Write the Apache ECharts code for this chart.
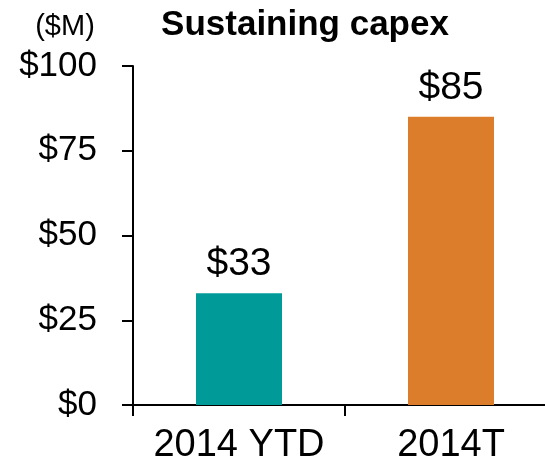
<!DOCTYPE html>
<html><head><meta charset="utf-8">
<script src="https://cdn.jsdelivr.net/npm/echarts@6/dist/echarts.min.js"></script>
<style>html,body{margin:0;padding:0;background:#fff;overflow:hidden;width:545px;height:466px}#c{width:557px;height:466px}</style>
</head><body><div id="c"></div>
<script>
const categories = ['2014 YTD', '2014T'];
const values = [33, 85];
const barColors = ['#009B98', '#DC7D2B'];
const yTicks = [0, 25, 50, 75, 100];
const titleText = 'Sustaining capex';
const unitText = '($M)';

const FONT = '"Liberation Sans", Arial, sans-serif';
const chart = echarts.init(document.getElementById('c'), null, {renderer: 'canvas'});
chart.setOption({
  animation: false,
  backgroundColor: '#fff',
  title: [
    {text: titleText, left: 300, top: 3, textAlign: 'center',
     textStyle: {fontFamily: FONT, fontSize: 35, fontWeight: 'bold', color: '#000'}},
    {text: unitText, left: 60, top: 7, textAlign: 'center',
     textStyle: {fontFamily: FONT, fontSize: 29, fontWeight: 'normal', color: '#000'}}
  ],
  grid: {left: 133, top: 66, right: 0, bottom: 61, containLabel: false},
  xAxis: {
    type: 'category', data: categories,
    axisLine: {lineStyle: {color: '#000', width: 2}},
    axisTick: {show: true, length: 11, lineStyle: {color: '#000', width: 2}},
    axisLabel: {fontFamily: FONT, fontSize: 38, color: '#000', margin: 22, interval: 0, hideOverlap: false}
  },
  yAxis: {
    type: 'value', min: yTicks[0], max: yTicks[yTicks.length - 1], interval: 25,
    axisLine: {show: true, lineStyle: {color: '#000', width: 2}},
    axisTick: {show: true, length: 11, lineStyle: {color: '#000', width: 2}},
    splitLine: {show: false},
    axisLabel: {fontFamily: FONT, fontSize: 35, color: '#000', margin: 36,
      formatter: v => '$' + v}
  },
  series: [{
    type: 'bar', barWidth: 86,
    data: values.map((v, i) => ({value: v, itemStyle: {color: barColors[i]}})),
    label: {show: true, position: 'top', distance: 9, fontFamily: FONT, fontSize: 39, color: '#000',
      formatter: p => '$' + p.value}
  }]
});
</script></body></html>
